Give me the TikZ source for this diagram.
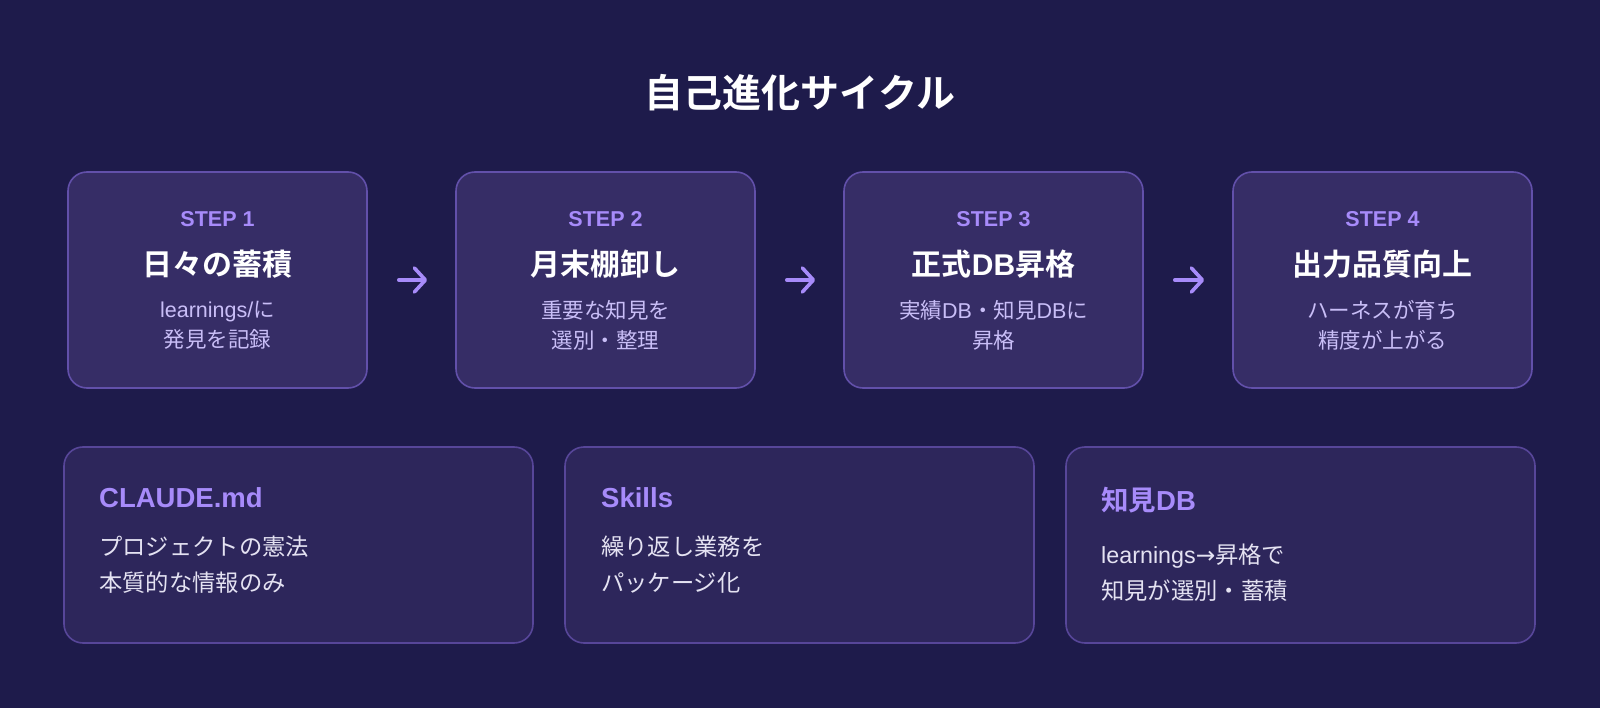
\documentclass[tikz,border=0pt]{standalone}
\usepackage{fontspec}
\setmainfont{Liberation Sans}
\newfontfamily\cjk{Noto Sans CJK JP}[BoldFont={Noto Sans CJK JP Bold}]
\newfontfamily\symf{DejaVu Sans}
\usetikzlibrary{arrows.meta}
\definecolor{bg}{HTML}{1E1B4B}
\definecolor{stepfill}{HTML}{362D66}
\definecolor{infofill}{HTML}{2D265B}
\definecolor{edge}{HTML}{6250AA}
\definecolor{edgeb}{HTML}{574699}
\definecolor{accent}{HTML}{A78BFA}
\definecolor{soft}{HTML}{C9BEF7}
\definecolor{bodytxt}{HTML}{E4E2F2}
\tikzset{
  stepbox/.style={draw=edge, line width=1.6pt, fill=stepfill, rounded corners=19pt,
    minimum width=299pt, minimum height=216pt, inner sep=0pt},
  infobox/.style={draw=edgeb, line width=1.6pt, fill=infofill, rounded corners=19pt,
    minimum width=469pt, minimum height=196pt, inner sep=0pt},
  steplabel/.style={text=accent, font=\bfseries\fontsize{21.5}{26}\selectfont, inner sep=0pt},
  steptitle/.style={text=white, font=\bfseries\fontsize{30}{36}\selectfont, inner sep=0pt},
  stepbody/.style={text=soft, font=\fontsize{21.5}{30}\selectfont, align=center, inner sep=0pt},
  infotitle/.style={text=accent, font=\bfseries\fontsize{27.5}{32}\selectfont, anchor=west, inner sep=0pt},
  infobody/.style={text=bodytxt, font=\fontsize{23.3}{36}\selectfont, align=left, anchor=west, inner sep=0pt},
  flow/.style={draw=accent, line width=3.6pt, line cap=round, -{Straight Barb[length=11pt,width=24pt,line cap=round,line join=round]}},
}
\begin{document}
\begin{tikzpicture}[x=1pt,y=-1pt]
\fill[bg] (0,0) rectangle (1600,708);
\useasboundingbox (0,0) rectangle (1600,708);

\node[text=white, font=\bfseries\fontsize{39}{46}\selectfont, inner sep=0pt] (title) at (800,93) {\cjk 自己進化サイクル};

% step boxes
\node[stepbox] (s1) at (217.5,280) {};
\node[stepbox] (s2) at (605.5,280) {};
\node[stepbox] (s3) at (993.5,280) {};
\node[stepbox] (s4) at (1382.5,280) {};

\node[steplabel] (l1) at (217.5,219) {STEP 1};
\node[steptitle] (t1) at (217.5,264) {\cjk 日々の蓄積};
\node[stepbody] (d1) at (217.5,325) {learnings/{\cjk に}\\{\cjk 発見を記録}};

\node[steplabel] (l2) at (605.5,219) {STEP 2};
\node[steptitle] (t2) at (605.5,264) {\cjk 月末棚卸し};
\node[stepbody] (d2) at (605.5,325) {{\cjk 重要な知見を}\\{\cjk 選別・整理}};

\node[steplabel] (l3) at (993.5,219) {STEP 3};
\node[steptitle] (t3) at (993.5,264) {{\cjk 正式}DB{\cjk 昇格}};
\node[stepbody] (d3) at (993.5,325) {{\cjk 実績}DB{\cjk ・知見}DB{\cjk に}\\{\cjk 昇格}};

\node[steplabel] (l4) at (1382.5,219) {STEP 4};
\node[steptitle] (t4) at (1382.5,264) {\cjk 出力品質向上};
\node[stepbody] (d4) at (1382.5,325) {{\cjk ハーネスが育ち}\\{\cjk 精度が上がる}};

\draw[flow] ([xshift=31pt]s1.east) -- ([xshift=-28pt]s2.west);
\draw[flow] ([xshift=31pt]s2.east) -- ([xshift=-28pt]s3.west);
\draw[flow] ([xshift=31pt]s3.east) -- ([xshift=-28pt]s4.west);

% info boxes
\node[infobox] (b1) at (298.5,545) {};
\node[infobox] (b2) at (799.5,545) {};
\node[infobox] (b3) at (1300.5,545) {};

\node[infotitle] (h1) at (99,498) {CLAUDE.md};
\node[infobody] (p1) at (99,565) {{\cjk プロジェクトの憲法}\\{\cjk 本質的な情報のみ}};

\node[infotitle] (h2) at (601,498) {Skills};
\node[infobody] (p2) at (601,565) {{\cjk 繰り返し業務を}\\{\cjk パッケージ化}};

\node[infotitle] (h3) at (1101,500) {{\cjk 知見}DB};
\node[infobody] (p3) at (1101,573) {learnings{\symf →}{\cjk 昇格で}\\{\cjk 知見が選別・蓄積}};
\end{tikzpicture}
\end{document}
